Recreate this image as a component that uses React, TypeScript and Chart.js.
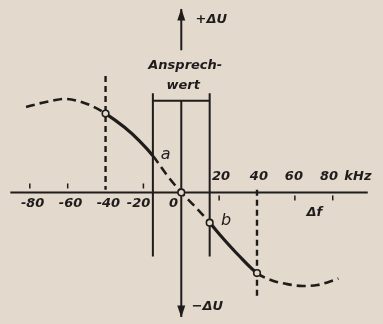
import React, { useEffect, useRef } from 'react';
import { Chart, registerables } from 'chart.js';

Chart.register(...registerables);

// ---- data (frequency deviation in kHz, ΔU in relative units) ----
const curveF = [-82, -75, -68, -62, -55, -48, -40, -30, -22, -15, -8, 0, 8, 15, 22, 30, 40, 48, 56, 64, 72, 83];
const curveU = [0.93, 0.97, 1.0, 1.02, 1.0, 0.95, 0.86, 0.71, 0.56, 0.4, 0.2, 0, -0.17, -0.33, -0.5, -0.68, -0.88, -0.96, -1.0, -1.02, -1.01, -0.94];
const solidFrom = [-40, 15];
const solidTo = [-15, 40];

const markerF = [-40, 0, 15, 40];
const markerU = [0.86, 0, -0.33, -0.88];

const xAxisF = [-90.3, 98.5];
const yAxisUpperU = [1.55, 2.0];
const yAxisLowerU = [1.0, -1.36];

const bracketF = [-15, 15];
const bracketTopU = 1.08;
const bracketBarU = 1.0;
const bracketBottomU = -0.7;

const guideF = [-40, 40];
const guideFromU = [1.27, 0.03];
const guideToU = [0.03, -1.14];

const tickUpF = [-80, -60, -20];
const tickUpU = 0.07;
const tickDownF = [20, 60, 80];
const tickDownU = -0.06;

const topTickText = ['20', '40', '60', '80', 'kHz'];
const topTickF = [21, 41, 59.5, 78, 93.3];
const topTickU = 0.174;
const bottomTickText = ['-80', '-60', '-40', '-20', '0'];
const bottomTickF = [-78.5, -58.5, -38.5, -22.6, -4.1];
const bottomTickU = -0.12;

const noteText = ['+ΔU', 'Ansprech-', 'wert', 'Δf', '−ΔU'];
const noteF = [15.9, 2.1, 1.0, 70.3, 13.8];
const noteU = [1.88, 1.384, 1.163, -0.226, -1.247];
const pointText = ['a', 'b'];
const pointF = [-8.2, 23.6];
const pointU = [0.405, -0.31];

const arrowTipU = [2.005, -1.363];

const X_MIN = -92.8;
const X_MAX = 103.6;
const Y_MIN = -1.374;
const Y_MAX = 2.037;

const INK = '#1f1c1c';
const BG = '#e3d9cc';

const pts = (xs: number[], ys: number[]) => xs.map((x, i) => ({ x, y: ys[i] }));

export default function App() {
  const ref = useRef<HTMLCanvasElement | null>(null);

  useEffect(() => {
    if (!ref.current) return;
    const isSolid = (ctx: any) => {
      const a = ctx.p0.parsed.x;
      const b = ctx.p1.parsed.x;
      return solidFrom.some((s, i) => a >= s - 0.01 && b <= solidTo[i] + 0.01);
    };

    const lineDs = (data: any[], width: number, dash: number[] = []) => ({
      data,
      borderColor: INK,
      borderWidth: width,
      borderDash: dash,
      pointRadius: 0,
      fill: false,
      tension: 0,
      clip: false as any,
    });

    const datasets: any[] = [
      {
        data: pts(markerF, markerU),
        showLine: false,
        pointRadius: 3.3,
        pointBorderWidth: 1.6,
        pointBackgroundColor: BG,
        pointBorderColor: INK,
        clip: false,
      },
      {
        data: pts(curveF, curveU),
        borderColor: INK,
        borderWidth: 2.6,
        pointRadius: 0,
        cubicInterpolationMode: 'monotone',
        fill: false,
        clip: false,
        segment: {
          borderDash: (ctx: any) => (isSolid(ctx) ? [] : [9, 5]),
          borderWidth: (ctx: any) => (isSolid(ctx) ? 3.2 : 2.6),
        },
      },
      lineDs(pts(xAxisF, [0, 0]), 2),
      lineDs(pts([0, 0], yAxisUpperU), 2),
      lineDs(pts([0, 0], yAxisLowerU), 2),
      lineDs(pts([bracketF[0], bracketF[0]], [bracketTopU, bracketBottomU]), 2),
      lineDs(pts([bracketF[1], bracketF[1]], [bracketTopU, bracketBottomU]), 2),
      lineDs(pts(bracketF, [bracketBarU, bracketBarU]), 2),
      lineDs(pts([guideF[0], guideF[0]], [guideFromU[0], guideToU[0]]), 2.4, [6, 4]),
      lineDs(pts([guideF[1], guideF[1]], [guideFromU[1], guideToU[1]]), 2.4, [6, 4]),
      {
        data: [...tickUpF.map((x) => ({ x, y: tickUpU })), ...tickDownF.map((x) => ({ x, y: tickDownU }))],
        showLine: false,
        pointStyle: 'line',
        rotation: 90,
        pointRadius: 2.5,
        pointBorderWidth: 1.5,
        pointBorderColor: INK,
        clip: false,
      },
    ];

    const decor = {
      id: 'decor',
      beforeDraw(chart: any) {
        const c = chart.ctx;
        c.save();
        c.fillStyle = BG;
        c.fillRect(0, 0, chart.width, chart.height);
        c.restore();
      },
      afterDatasetsDraw(chart: any) {
        const c = chart.ctx;
        const xs = chart.scales.x;
        const ys = chart.scales.y;
        const px = (f: number) => xs.getPixelForValue(f);
        const py = (u: number) => ys.getPixelForValue(u);
        c.save();
        c.fillStyle = INK;
        // arrowheads on the ΔU axis
        const ax = px(0);
        const top = py(arrowTipU[0]);
        const bot = py(arrowTipU[1]);
        c.beginPath();
        c.moveTo(ax, top);
        c.lineTo(ax - 4, top + 12);
        c.lineTo(ax + 4, top + 12);
        c.closePath();
        c.fill();
        c.beginPath();
        c.moveTo(ax, bot);
        c.lineTo(ax - 4, bot - 12);
        c.lineTo(ax + 4, bot - 12);
        c.closePath();
        c.fill();

        c.textAlign = 'center';
        c.textBaseline = 'middle';
        c.font = 'italic bold 13px "DejaVu Sans"';
        topTickText.forEach((t, i) => c.fillText(t, px(topTickF[i]), py(topTickU)));
        bottomTickText.forEach((t, i) => c.fillText(t, px(bottomTickF[i]), py(bottomTickU)));
        noteText.forEach((t, i) => c.fillText(t, px(noteF[i]), py(noteU[i])));
        c.font = 'italic 16px "DejaVu Sans"';
        pointText.forEach((t, i) => c.fillText(t, px(pointF[i]), py(pointU[i])));
        c.restore();
      },
    };

    const chart = new Chart(ref.current, {
      type: 'line',
      data: { datasets },
      options: {
        animation: false,
        responsive: false,
        maintainAspectRatio: false,
        layout: { padding: 0 },
        events: [],
        plugins: { legend: { display: false }, tooltip: { enabled: false } },
        scales: {
          x: { type: 'linear', min: X_MIN, max: X_MAX, display: false },
          y: { type: 'linear', min: Y_MIN, max: Y_MAX, display: false },
        },
      },
      plugins: [decor],
    } as any);
    return () => chart.destroy();
  }, []);

  return (
    <div style={{ position: 'fixed', left: 0, top: 0, width: 383, height: 324, background: BG }}>
      <canvas ref={ref} width={383} height={324} style={{ display: 'block' }} />
    </div>
  );
}
